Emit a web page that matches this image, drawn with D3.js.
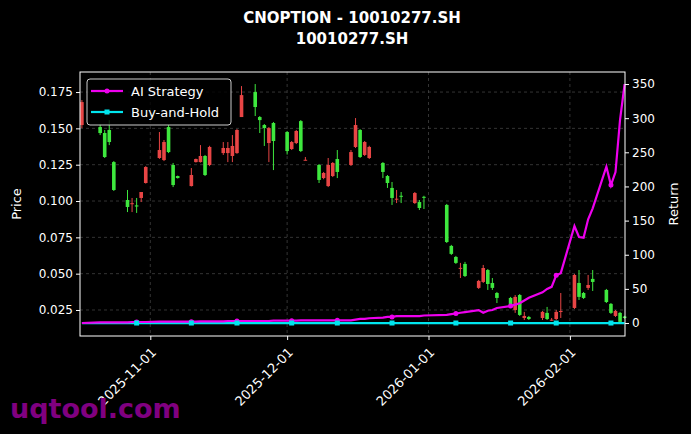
<!DOCTYPE html>
<html><head><meta charset="utf-8">
<script src="https://cdn.jsdelivr.net/npm/d3@7"></script>
<style>body{margin:0;background:#000}svg{display:block}</style>
</head><body><div id="chart"></div>
<script>
var dates = ["2025-10-17","2025-10-21","2025-10-22","2025-10-23","2025-10-24","2025-10-27","2025-10-28","2025-10-29","2025-10-30","2025-10-31",
 "2025-11-03","2025-11-04","2025-11-05","2025-11-06","2025-11-07","2025-11-10","2025-11-11","2025-11-12","2025-11-13","2025-11-14",
 "2025-11-17","2025-11-18","2025-11-19","2025-11-20","2025-11-21","2025-11-24","2025-11-25","2025-11-26","2025-11-27","2025-11-28",
 "2025-12-01","2025-12-02","2025-12-03","2025-12-04","2025-12-05","2025-12-08","2025-12-09","2025-12-10","2025-12-11","2025-12-12",
 "2025-12-15","2025-12-16","2025-12-17","2025-12-18","2025-12-19","2025-12-22","2025-12-23","2025-12-24","2025-12-25","2025-12-26",
 "2025-12-29","2025-12-30","2025-12-31","2026-01-05","2026-01-06","2026-01-07","2026-01-08","2026-01-09",
 "2026-01-12","2026-01-13","2026-01-14","2026-01-15","2026-01-16","2026-01-19","2026-01-20","2026-01-21","2026-01-22","2026-01-23",
 "2026-01-26","2026-01-27","2026-01-28","2026-01-29","2026-01-30","2026-02-02","2026-02-03","2026-02-04","2026-02-05","2026-02-06",
 "2026-02-09","2026-02-10","2026-02-11","2026-02-12","2026-02-13"];
var open  = [.1523,.1509,.1468,.1489,.1268,.1007,.0980,.0970,.1021,.1124,
 .1296,.1282,.1509,.1248,.1172,.1103,.1268,.1268,.1310,.1248,
 .1330,.1330,.1310,.1330,.1578,.1750,.1578,.1523,.1399,.1537,
 .1475,.1358,.1399,.1550,.1280,.1248,.1158,.1103,.1172,.1289,
 .1248,.1372,.1489,.1317,.1296,.1262,.1172,.1090,.1012,.1036,
 .0986,.0993,.1029,.0973,.0691,.0615,.0537,.0567,
 .0402,.0443,.0525,.0436,.0367,.0333,.0250,.0353,.0195,.0202,
 .0195,.0230,.0180,.0188,.0240,.0264,.0436,.0367,.0402,.0464,
 .0388,.0292,.0209,.0230,.0205];
var high  = [.1695,.1530,.1489,.1557,.1275,.1076,.1021,.1021,.1062,.1240,
 .1475,.1420,.1523,.1262,.1175,.1227,.1292,.1385,.1317,.1380,
 .1406,.1406,.1454,.1495,.1791,.1805,.1585,.1530,.1509,.1544,
 .1482,.1413,.1489,.1557,.1303,.1255,.1200,.1296,.1268,.1351,
 .1351,.1571,.1495,.1413,.1380,.1268,.1179,.1131,.1076,.1062,
 .1062,.1007,.1036,.0980,.0698,.0622,.0574,.0581,
 .0457,.0560,.0532,.0470,.0374,.0340,.0353,.0360,.0237,.0209,
 .0243,.0271,.0195,.0250,.0367,.0498,.0525,.0374,.0491,.0525,
 .0395,.0298,.0250,.0237,.0210];
var low   = [.1502,.1454,.1296,.1385,.1069,.0924,.0924,.0918,.0993,.1120,
 .1290,.1275,.1330,.1096,.1155,.1100,.1265,.1265,.1172,.1240,
 .1317,.1268,.1268,.1325,.1578,.1585,.1468,.1379,.1268,.1213,
 .1320,.1351,.1392,.1337,.1280,.1124,.1150,.1096,.1165,.1158,
 .1241,.1365,.1296,.1310,.1289,.1158,.1090,.0973,.0986,.0986,
 .0980,.0938,.0945,.0711,.0629,.0567,.0470,.0477,
 .0395,.0436,.0388,.0388,.0298,.0278,.0230,.0209,.0181,.0181,
 .0181,.0181,.0175,.0181,.0195,.0257,.0319,.0326,.0388,.0381,
 .0298,.0223,.0202,.0161,.0190];
var close = [.1681,.1468,.1303,.1406,.1076,.0959,.0985,.0962,.1062,.1234,
 .1351,.1406,.1337,.1110,.1158,.1179,.1289,.1310,.1179,.1372,
 .1365,.1365,.1379,.1489,.1729,.1647,.1557,.1502,.1502,.1413,
 .1344,.1406,.1482,.1344,.1284,.1145,.1193,.1248,.1262,.1200,
 .1337,.1523,.1303,.1406,.1372,.1200,.1124,.1021,.1016,.1032,
 .1055,.0952,.1025,.0718,.0636,.0574,.0540,.0484,
 .0450,.0539,.0429,.0402,.0333,.0285,.0340,.0216,.0209,.0188,
 .0237,.0188,.0183,.0237,.0243,.0491,.0340,.0333,.0422,.0443,
 .0305,.0230,.0243,.0168,.0195];
var aiReturn = [0,1,1,1,1,1,1.5,1.5,1.5,1.5,
 2,2,2,2,2,2,2,2.5,2.5,2.5,
 2.5,3,3,3,3,3,3,3,3,3.5,
 3.5,3.5,3.5,4,4,4,4,4,4,4,
 4,5,6,6,7,8,9,9,10,10,
 10,10,11,12,13,14,15,16,
 19,15,18,19,22,25,27,29,33,37,
 45,50,53,70,73,142,126,125,152,168,
 229,202,221,298,350];
var bhReturn = [0,0,0,0,0,0,0,0,0,0,0,0,0,0,0,0,0,0,0,0,0,0,0,0,0,0,0,0,0,0,
 0,0,0,0,0,0,0,0,0,0,0,0,0,0,0,0,0,0,0,0,0,0,0,0,0,0,0,0,
 0,0,0,0,0,0,0,0,0,0,0,0,0,0,0,0,0,0,0,0,0,0,0,0,0];
var priceTicks = [0.025,0.050,0.075,0.100,0.125,0.150,0.175];
var returnTicks = [0,50,100,150,200,250,300,350];
var dateTicks = ["2025-11-01","2025-12-01","2026-01-01","2026-02-01"];

var W = 691, H = 434, m = {l:80, r:66, t:72, b:98};
var parse = d3.utcParse("%Y-%m-%d");
var svg = d3.select("#chart").append("svg").attr("width", W).attr("height", H)
  .style("background", "#000").style("font-family", "DejaVu Sans");

var x = d3.scaleUtc().domain([new Date(Date.UTC(2025,9,16,14)), new Date(Date.UTC(2026,1,13,2))]).range([m.l, W - m.r]);
var y = d3.scaleLinear().domain([0.0071, 0.1888]).range([H - m.b, m.t]);
var y2 = d3.scaleLinear().domain([-19, 367.6]).range([H - m.b, m.t]);

var g = svg.append("g");
// grid
g.selectAll(".gx").data(dateTicks).join("line")
  .attr("x1", d => x(parse(d))).attr("x2", d => x(parse(d)))
  .attr("y1", m.t).attr("y2", H - m.b)
  .attr("stroke", "#555").attr("stroke-width", 0.6).attr("stroke-dasharray", "3,3");
g.selectAll(".gy").data(priceTicks).join("line")
  .attr("x1", m.l).attr("x2", W - m.r)
  .attr("y1", d => y(d)).attr("y2", d => y(d))
  .attr("stroke", "#555").attr("stroke-width", 0.6).attr("stroke-dasharray", "3,3");

// candles
var bw = 3.6;
dates.forEach(function (d, i) {
  var cx = x(parse(d)), up = close[i] >= open[i];
  var col = up ? "#e84545" : "#3ee83e";
  g.append("line").attr("x1", cx).attr("x2", cx).attr("y1", y(high[i])).attr("y2", y(low[i]))
    .attr("stroke", col).attr("stroke-width", 1);
  var top = y(Math.max(open[i], close[i])), bot = y(Math.min(open[i], close[i]));
  g.append("rect").attr("x", cx - bw / 2).attr("width", bw)
    .attr("y", top).attr("height", Math.max(1, bot - top)).attr("fill", col);
});

// return lines
var line = d3.line().x((d, i) => x(parse(dates[i]))).y(d => y2(d));
g.append("path").attr("d", line(bhReturn)).attr("fill", "none").attr("stroke", "#00e5ee").attr("stroke-width", 2.2);
g.append("path").attr("d", line(aiReturn)).attr("fill", "none").attr("stroke", "#ee00ee").attr("stroke-width", 2.2);
dates.forEach(function (d, i) {
  if (i % 8 != 7) return;
  g.append("circle").attr("cx", x(parse(d))).attr("cy", y2(aiReturn[i])).attr("r", 2.5).attr("fill", "#ee00ee");
  g.append("rect").attr("x", x(parse(d)) - 2.5).attr("y", y2(bhReturn[i]) - 2.5).attr("width", 5).attr("height", 5).attr("fill", "#00e5ee");
});

// frame
svg.append("rect").attr("x", m.l).attr("y", m.t).attr("width", W - m.l - m.r).attr("height", H - m.t - m.b)
  .attr("fill", "none").attr("stroke", "#fff").attr("stroke-width", 1);

// axes
var ax = svg.append("g").attr("transform", "translate(" + m.l + ",0)")
  .call(d3.axisLeft(y).tickValues(priceTicks).tickFormat(d3.format(".3f")).tickSize(4));
var ax2 = svg.append("g").attr("transform", "translate(" + (W - m.r) + ",0)")
  .call(d3.axisRight(y2).tickValues(returnTicks).tickSize(4));
var axb = svg.append("g").attr("transform", "translate(0," + (H - m.b) + ")")
  .call(d3.axisBottom(x).tickValues(dateTicks.map(parse)).tickFormat(d3.utcFormat("%Y-%m-%d")).tickSize(4));
[ax, ax2, axb].forEach(function (a) {
  a.select(".domain").remove();
  a.selectAll("line").attr("stroke", "#fff");
  a.selectAll("text").attr("fill", "#fff").style("font-size", "12px").style("font-family", "DejaVu Sans");
});
axb.selectAll("text").attr("text-anchor", "end").attr("y", 0).attr("dy", "0.35em")
  .style("font-size", "13px")
  .attr("transform", "translate(3,14) rotate(-45)");

// labels
svg.append("text").attr("transform", "translate(21," + ((m.t + H - m.b) / 2) + ") rotate(-90)")
  .attr("text-anchor", "middle").attr("fill", "#fff").style("font-size", "13px").text("Price");
svg.append("text").attr("transform", "translate(678," + ((m.t + H - m.b) / 2) + ") rotate(-90)")
  .attr("text-anchor", "middle").attr("fill", "#fff").style("font-size", "13px").text("Return");
svg.append("text").attr("x", 352).attr("y", 23).attr("text-anchor", "middle").attr("fill", "#fff")
  .style("font-size", "15px").style("font-weight", "bold").text("CNOPTION - 10010277.SH");
svg.append("text").attr("x", 352).attr("y", 44).attr("text-anchor", "middle").attr("fill", "#fff")
  .style("font-size", "15px").style("font-weight", "bold").text("10010277.SH");

// legend
var lg = svg.append("g").attr("transform", "translate(87,79)");
lg.append("rect").attr("width", 144).attr("height", 46).attr("rx", 3)
  .attr("fill", "#000").attr("fill-opacity", 0.8).attr("stroke", "#ccc");
[["AI Strategy", "#ee00ee"], ["Buy-and-Hold", "#00e5ee"]].forEach(function (e, i) {
  var yy = 12 + i * 21;
  lg.append("line").attr("x1", 4).attr("x2", 36).attr("y1", yy).attr("y2", yy).attr("stroke", e[1]).attr("stroke-width", 2.2);
  if (i == 0) lg.append("circle").attr("cx", 20).attr("cy", yy).attr("r", 2.5).attr("fill", e[1]);
  else lg.append("rect").attr("x", 17.5).attr("y", yy - 2.5).attr("width", 5).attr("height", 5).attr("fill", e[1]);
  lg.append("text").attr("x", 44).attr("y", yy + 4.5).attr("fill", "#fff").style("font-size", "13px").text(e[0]);
});

// watermark
svg.append("text").attr("x", 10).attr("y", 418).attr("fill", "#800080")
  .style("font-size", "27px").style("font-weight", "bold").text("uqtool.com");
</script></body></html>
